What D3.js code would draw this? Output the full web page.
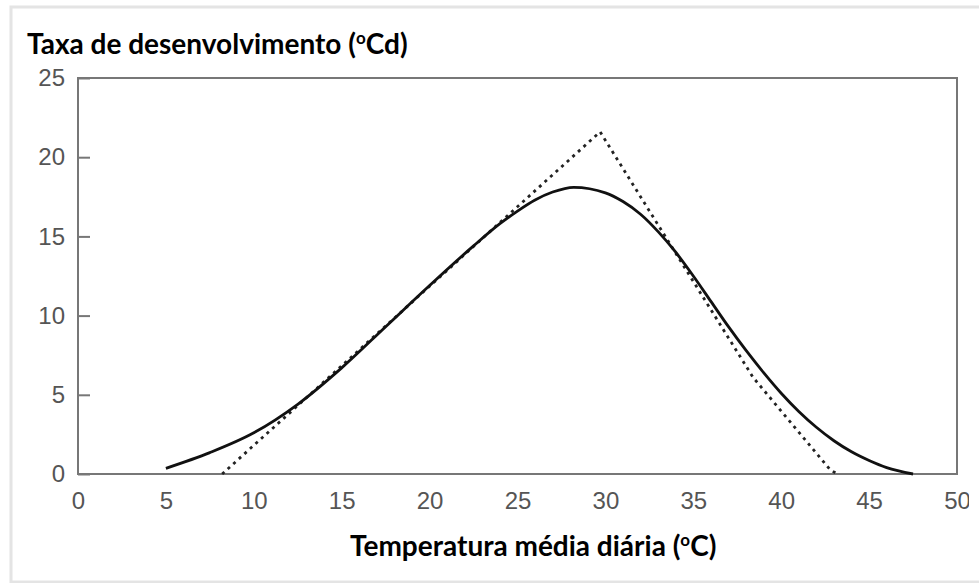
<!DOCTYPE html>
<html>
<head>
<meta charset="utf-8">
<script src="https://cdn.jsdelivr.net/npm/d3@7"></script>
<style>
  body { margin: 0; background: #fff; }
  svg { display: block; }
  .axis text { font-family: "Liberation Sans", Arial, sans-serif; font-size: 24px; fill: #555; }
  .axis line { stroke: #777; stroke-width: 2; }
  .title { font-family: Lato, "Open Sans", sans-serif; font-weight: bold; font-size: 28px; fill: #000; }
</style>
</head>
<body>
<div id="chart"></div>
<script>
// temperatura média diária (°C) vs taxa de desenvolvimento
const xTicks = [0, 5, 10, 15, 20, 25, 30, 35, 40, 45, 50];
const yTicks = [0, 5, 10, 15, 20, 25];

// curva contínua (modelo não linear)
const curveTemp = [5, 7.5, 10, 12.5, 15, 17.5, 20, 22.5, 24, 25, 26, 27, 28.2, 30, 31, 32, 33, 34, 35, 36, 37, 38, 39, 40, 41, 42, 43, 44, 45, 46, 47.5];
const curveRate = [0.36, 1.35, 2.6, 4.4, 6.7, 9.3, 11.9, 14.4, 15.8, 16.6, 17.3, 17.8, 18.1, 17.75, 17.2, 16.4, 15.3, 14.0, 12.5, 10.9, 9.3, 7.8, 6.4, 5.1, 3.95, 2.95, 2.1, 1.4, 0.85, 0.4, 0];

// linha tracejada (modelo linear por partes)
const lineTemp = [8.2, 29.7, 38.4, 42.8, 43.2];
const lineRate = [0, 21.6, 6.1, 0.25, 0];

const W = 979, H = 583;
const m = { left: 78, top: 78, right: 22, bottom: 109 };

const svg = d3.select('#chart').append('svg')
    .attr('width', W)
    .attr('height', H);

// moldura clara em volta da figura
svg.append('rect')
    .attr('x', 11).attr('y', 7)
    .attr('width', 1000).attr('height', 575)
    .attr('fill', 'none')
    .attr('stroke', '#e4e4e4')
    .attr('stroke-width', 3);

const x = d3.scaleLinear().domain([0, 50]).range([m.left, W - m.right]);
const y = d3.scaleLinear().domain([0, 25]).range([H - m.bottom, m.top]);

svg.append('defs').append('clipPath').attr('id', 'cut')
    .append('rect').attr('x', 0).attr('y', 0).attr('width', 969).attr('height', H);

const xAxis = d3.axisBottom(x).tickValues(xTicks).tickSize(-14).tickPadding(18);
const yAxis = d3.axisLeft(y).tickValues(yTicks).tickSize(-12).tickPadding(13);

svg.append('g')
    .attr('class', 'x axis')
    .attr('clip-path', 'url(#cut)')
    .attr('transform', 'translate(0,' + y(0) + ')')
    .call(xAxis)
    .call(g => g.select('.domain').remove());

svg.append('g')
    .attr('class', 'y axis')
    .attr('transform', 'translate(' + x(0) + ',0)')
    .call(yAxis)
    .call(g => g.select('.domain').remove());

// caixa do gráfico
svg.append('rect')
    .attr('x', x(0)).attr('y', y(25))
    .attr('width', x(50) - x(0)).attr('height', y(0) - y(25))
    .attr('fill', 'none')
    .attr('stroke', '#777')
    .attr('stroke-width', 2);

const dashed = lineTemp.map((t, i) => [t, lineRate[i]]);
const solid = curveTemp.map((t, i) => [t, curveRate[i]]);

svg.append('path')
    .datum(dashed)
    .attr('fill', 'none')
    .attr('stroke', '#222')
    .attr('stroke-width', 2.8)
    .attr('stroke-dasharray', '3,4.5')
    .attr('d', d3.line().x(d => x(d[0])).y(d => y(d[1])));

svg.append('path')
    .datum(solid)
    .attr('fill', 'none')
    .attr('stroke', '#111')
    .attr('stroke-width', 2.8)
    .attr('d', d3.line().curve(d3.curveMonotoneX).x(d => x(d[0])).y(d => y(d[1])));

// títulos
const t1 = svg.append('text').attr('class', 'title').attr('x', 27).attr('y', 54);
t1.append('tspan').text('Taxa de desenvolvimento (');
t1.append('tspan').attr('font-size', '17px').attr('dy', -10).text('o');
t1.append('tspan').attr('dy', 10).text('Cd)');

const t2 = svg.append('text').attr('class', 'title').attr('x', 350).attr('y', 556);
t2.append('tspan').text('Temperatura média diária (');
t2.append('tspan').attr('font-size', '17px').attr('dy', -10).text('o');
t2.append('tspan').attr('dy', 10).text('C)');
</script>
</body>
</html>
